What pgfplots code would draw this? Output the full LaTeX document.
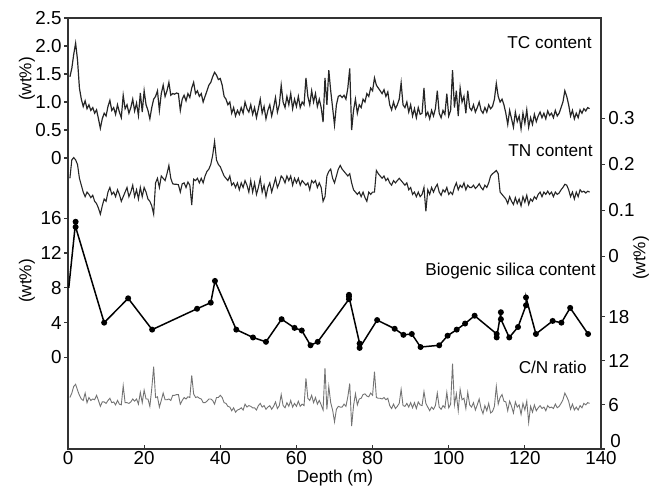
\documentclass[border=0pt]{standalone}
\usepackage{pgfplots}
\pgfplotsset{compat=1.18}
\usepackage{pgfplotstable}
\usepackage{fontspec}
\setmainfont{Liberation Sans}
% depth (m), TC (wt%), TN (wt%), C/N ratio
\pgfplotstableread{
d tc tn cn
0.5 1.45 0.17 7.0
1.0 1.6 0.21 7.6
1.5 1.85 0.215 8.5
2.0 2.05 0.21 8.8
2.5 1.75 0.2 8.0
3.0 1.25 0.17 7.3
3.5 1.05 0.155 6.8
4.0 0.92 0.14 6.6
4.5 1.02 0.13 7.6
5.0 0.88 0.14 6.3
5.5 0.95 0.135 7.0
6.0 0.85 0.128 6.6
6.5 0.9 0.133 6.8
7.0 0.8 0.12 6.7
7.5 0.86 0.115 7.3
8.0 0.7 0.105 6.6
8.5 0.53 0.092 5.8
9.0 0.7 0.11 6.4
9.5 0.8 0.125 6.4
10.0 0.75 0.12 6.2
10.5 0.92 0.14 6.6
11.0 1.03 0.15 6.9
11.5 0.85 0.135 6.3
12.0 0.9 0.14 6.4
12.5 0.78 0.13 6.0
13.0 0.95 0.145 6.6
13.5 0.82 0.135 6.1
14.0 0.72 0.12 6.0
14.5 1.12 0.13 8.6
15.0 0.88 0.14 6.3
15.5 0.95 0.15 6.3
16.0 0.8 0.13 6.2
16.5 0.9 0.14 6.4
17.0 1.05 0.155 6.8
17.5 0.84 0.13 6.5
18.0 0.98 0.145 6.8
18.5 0.76 0.125 6.1
19.0 1.16 0.15 7.7
19.5 0.82 0.13 6.3
20.0 1.2 0.15 8.0
20.5 0.95 0.14 6.8
21.0 0.85 0.125 6.8
21.5 0.7 0.12 5.8
22.0 0.9 0.11 8.2
22.5 1.05 0.092 11.2
23.0 1.1 0.16 7.0
23.5 1.2 0.17 7.1
24.0 0.85 0.15 5.7
24.5 1.15 0.175 6.6
25.0 1.3 0.17 7.6
25.5 1.1 0.165 6.7
26.0 1.2 0.18 6.7
26.5 1.35 0.198 6.8
27.0 1.12 0.17 6.6
27.5 1.15 0.158 7.3
28.0 1.14 0.157 7.3
28.5 1.16 0.157 7.4
29.0 1.15 0.156 7.4
29.5 0.85 0.14 6.1
30.0 1.05 0.158 6.6
30.5 1.12 0.16 7.0
31.0 1.02 0.15 6.8
31.5 1.15 0.162 7.1
32.0 1.08 0.155 7.0
32.5 1.25 0.112 10.0
33.0 1.35 0.168 7.5
33.5 1.15 0.165 7.0
34.0 1.2 0.17 7.1
34.5 1.1 0.16 6.9
35.0 1.15 0.17 6.8
35.5 1.0 0.16 6.3
36.0 1.1 0.175 6.3
36.5 1.2 0.185 6.5
37.0 1.3 0.19 6.8
37.5 1.35 0.2 6.8
38.0 1.45 0.22 6.6
38.5 1.53 0.25 6.1
39.0 1.48 0.21 7.0
39.5 1.4 0.2 7.0
40.0 1.42 0.195 7.3
40.5 1.3 0.185 7.0
41.0 1.1 0.175 6.3
41.5 1.05 0.17 6.2
42.0 0.95 0.165 5.8
42.5 1.0 0.175 5.7
43.0 0.8 0.155 5.2
43.5 0.9 0.16 5.6
44.0 0.75 0.15 5.0
44.5 0.85 0.16 5.3
45.0 0.78 0.145 5.4
45.5 0.9 0.16 5.6
46.0 0.8 0.15 5.3
46.5 1.0 0.165 6.1
47.0 0.88 0.155 5.7
47.5 0.82 0.14 5.9
48.0 0.95 0.165 5.8
48.5 0.78 0.14 5.6
49.0 0.9 0.16 5.6
49.5 0.72 0.135 5.3
50.0 0.88 0.15 5.9
50.5 1.05 0.17 6.2
51.0 0.8 0.14 5.7
51.5 0.92 0.155 5.9
52.0 0.7 0.13 5.4
52.5 0.85 0.15 5.7
53.0 0.95 0.16 5.9
53.5 0.75 0.14 5.4
54.0 0.9 0.155 5.8
54.5 1.08 0.17 6.4
55.0 0.82 0.15 5.5
55.5 0.95 0.16 5.9
56.0 1.3 0.175 7.4
56.5 1.0 0.17 5.9
57.0 0.9 0.16 5.6
57.5 1.1 0.175 6.3
58.0 0.95 0.165 5.8
58.5 1.15 0.175 6.6
59.0 0.88 0.155 5.7
59.5 1.05 0.17 6.2
60.0 0.92 0.16 5.8
60.5 1.1 0.17 6.5
61.0 0.9 0.155 5.8
61.5 1.0 0.165 6.1
62.0 0.95 0.16 5.9
62.5 1.43 0.155 9.6
63.0 1.1 0.16 6.9
63.5 0.95 0.145 6.6
64.0 1.2 0.165 7.3
64.5 1.0 0.16 6.3
65.0 1.15 0.165 7.0
65.5 0.92 0.15 6.1
66.0 1.05 0.16 6.6
66.5 0.9 0.15 6.0
67.0 0.64 0.12 5.3
67.5 1.43 0.13 11.0
68.0 0.95 0.175 5.4
68.5 1.57 0.185 8.5
69.0 1.2 0.19 6.3
69.5 0.9 0.17 5.3
70.0 0.59 0.16 3.7
70.5 0.95 0.175 5.4
71.0 1.1 0.19 5.8
71.5 1.12 0.198 5.7
72.0 1.08 0.19 5.7
72.5 1.12 0.185 6.1
73.0 1.05 0.18 5.8
73.5 1.25 0.175 7.1
74.0 1.6 0.18 8.9
74.5 0.5 0.16 3.1
75.0 0.85 0.145 5.9
75.5 1.05 0.14 7.5
76.0 0.8 0.135 6.0
76.5 0.95 0.14 6.8
77.0 0.9 0.13 6.9
77.5 1.05 0.14 7.4
78.0 1.0 0.128 7.5
78.5 1.15 0.12 7.2
79.0 1.1 0.14 7.1
79.5 1.25 0.135 7.6
80.0 1.2 0.14 7.3
80.5 1.43 0.14 10.5
81.0 1.3 0.187 7.0
81.5 1.25 0.18 6.9
82.0 1.2 0.175 6.9
82.5 1.15 0.17 6.8
83.0 1.22 0.175 7.0
83.5 1.1 0.165 6.7
84.0 1.18 0.17 6.9
84.5 0.95 0.16 5.9
85.0 0.86 0.155 5.5
85.5 1.0 0.165 6.1
86.0 0.88 0.16 5.5
86.5 0.95 0.165 5.8
87.0 1.05 0.17 6.2
87.5 1.34 0.165 8.1
88.0 0.95 0.16 5.9
88.5 0.9 0.155 5.8
89.0 1.0 0.16 6.2
89.5 0.82 0.145 5.7
90.0 0.95 0.15 6.3
90.5 0.75 0.135 5.6
91.0 0.88 0.14 6.3
91.5 0.72 0.13 5.5
92.0 0.9 0.14 6.4
92.5 0.78 0.13 6.0
93.0 0.8 0.135 5.9
93.5 1.25 0.15 7.8
94.0 0.75 0.098 6.2
94.5 0.82 0.145 5.7
95.0 0.7 0.135 5.2
95.5 0.85 0.15 5.7
96.0 0.75 0.14 5.4
96.5 0.88 0.15 5.9
97.0 1.2 0.157 7.6
97.5 0.8 0.14 5.7
98.0 0.72 0.133 5.4
98.5 0.85 0.145 5.9
99.0 0.78 0.14 5.6
99.5 1.15 0.15 7.7
100.0 0.75 0.135 5.6
100.5 0.85 0.14 6.1
101.0 1.57 0.135 11.6
101.5 0.9 0.15 6.0
102.0 1.2 0.16 7.5
102.5 0.75 0.145 5.2
103.0 1.25 0.155 8.1
103.5 1.0 0.15 6.7
104.0 1.1 0.16 6.9
104.5 0.8 0.145 5.5
105.0 1.2 0.155 7.7
105.5 0.9 0.15 6.0
106.0 0.85 0.15 5.7
106.5 0.95 0.155 6.3
107.0 0.82 0.148 5.3
107.5 0.9 0.152 6.0
108.0 1.0 0.158 6.8
108.5 0.85 0.15 5.5
109.0 0.8 0.145 4.8
109.5 0.9 0.155 5.9
110.0 0.82 0.15 5.2
110.5 0.95 0.16 6.2
111.0 0.88 0.175 4.9
111.5 0.92 0.18 5.1
112.0 1.05 0.183 5.8
112.5 1.33 0.187 8.5
113.0 1.1 0.18 6.1
113.5 1.0 0.14 7.0
114.0 1.05 0.135 7.4
114.5 0.95 0.13 6.5
115.0 0.8 0.125 6.4
115.5 0.6 0.115 5.2
116.0 0.85 0.13 6.5
116.5 0.7 0.12 5.8
117.0 0.55 0.113 4.9
117.5 0.82 0.128 6.4
118.0 0.65 0.115 5.7
118.5 0.75 0.125 6.0
119.0 0.52 0.11 4.7
119.5 0.8 0.13 6.2
120.0 0.62 0.118 5.3
120.5 0.86 0.133 6.5
121.0 0.55 0.113 3.6
121.5 0.72 0.125 5.8
122.0 0.6 0.12 5.0
122.5 0.78 0.13 6.0
123.0 0.65 0.125 5.2
123.5 0.75 0.135 5.6
124.0 0.82 0.14 5.9
124.5 0.72 0.13 5.5
125.0 0.8 0.14 5.7
125.5 0.7 0.135 5.2
126.0 0.84 0.142 5.9
126.5 0.76 0.135 5.6
127.0 0.8 0.14 5.7
127.5 0.72 0.13 5.5
128.0 0.85 0.14 6.1
128.5 0.75 0.135 5.6
129.0 0.8 0.138 5.8
129.5 0.9 0.145 6.2
130.0 1.0 0.15 6.7
130.5 1.2 0.157 7.6
131.0 1.1 0.155 7.1
131.5 0.95 0.145 6.5
132.0 0.75 0.13 5.4
132.5 0.85 0.14 6.1
133.0 0.7 0.125 5.3
133.5 0.8 0.14 5.7
134.0 0.72 0.13 5.3
134.5 0.86 0.145 5.9
135.0 0.8 0.14 5.6
135.5 0.88 0.142 6.2
136.0 0.84 0.138 6.0
136.5 0.9 0.142 6.3
137.0 0.88 0.14 6.2
}\cores
% depth (m), biogenic silica (wt%)
\pgfplotstableread{
d bsi
0.2 8.0
2.0 15.6
2.0 15.0
9.5 4.0
15.8 6.8
22.1 3.2
33.9 5.6
37.5 6.3
38.6 8.8
44.2 3.2
48.6 2.3
52.0 1.8
56.1 4.4
59.5 3.4
61.4 3.1
63.7 1.4
65.6 1.8
73.8 6.7
73.8 7.2
73.8 7.0
76.6 1.6
76.6 1.1
81.2 4.3
85.8 3.3
88.1 2.6
90.3 2.7
92.6 1.2
97.5 1.4
99.7 2.5
102.1 3.2
104.3 3.9
106.8 4.8
112.6 2.7
112.6 2.3
113.7 5.2
113.7 4.4
115.9 2.3
118.2 3.5
120.3 6.0
120.3 6.9
122.9 2.7
127.3 4.2
129.6 4.0
131.9 5.7
136.6 2.7
}\bsidata
\pgfplotsset{
  base/.style={
    scale only axis, width=266.5pt, height=215.5pt,
    at={(0pt,0pt)}, anchor=south west,
    xmin=0, xmax=140,
    axis line style={black!80, line width=0.9pt},
    tick style={black!80, line width=0.6pt},
    major tick length=2pt,
    tick label style={font=\fontsize{9.4}{10}\selectfont, text=black},
    /pgf/number format/assume math mode=true,
  },
  overlay/.style={
    base, hide x axis, axis line style={draw=none},
  },
}
\begin{document}
\begin{tikzpicture}
\useasboundingbox (-34pt,-18.5pt) rectangle (294pt,224.5pt);
% TC content (left scale)
\begin{axis}[base, ymin=-5.196, ymax=2.5,
  xtick={0,20,...,140}, xtick pos=left, xtick align=inside,
  ytick={0,0.5,1,1.5,2,2.5}, yticklabels={0,0.5,1.0,1.5,2.0,2.5},
  ytick pos=left, ytick align=outside,
  yticklabel style={inner sep=1pt},
  xticklabel style={inner sep=0.5pt, yshift=-0.5pt},
]
\addplot[black!85, line width=0.6pt] table[x=d, y=tc] {\cores};
\end{axis}
% TN content (right scale)
\begin{axis}[overlay, ymin=-0.4185, ymax=0.5185,
  ytick={0,0.1,0.2,0.3}, yticklabels={0,0.1,0.2,0.3},
  ytick pos=right, ytick align=outside,
  yticklabel style={inner sep=1.5pt},
]
\addplot[black!85, line width=0.55pt] table[x=d, y=tn] {\cores};
\end{axis}
% Biogenic silica (left scale)
\begin{axis}[overlay, ymin=-10.52, ymax=39.02,
  ytick={0,4,8,12,16},
  ytick pos=left, ytick align=outside,
  yticklabel style={inner sep=1pt},
]
\addplot[black, line width=0.75pt, mark=*, mark size=1.1pt, mark indices={2,...,45}] table[x=d, y=bsi] {\bsidata};
\end{axis}
% C/N ratio (right scale)
\begin{axis}[overlay, ymin=0, ymax=58.6,
  ytick={6,12,18},
  ytick pos=right, ytick align=outside,
  yticklabel style={inner sep=1.5pt},
  extra y ticks={0},
  extra y tick style={ytick pos=right, yticklabel style={inner sep=0pt, xshift=2.5pt, yshift=4pt}},
]
\addplot[black!55, line width=0.45pt] table[x=d, y=cn] {\cores};
\end{axis}
% labels
\begin{scope}[every node/.style={font=\fontsize{8.6}{10}\selectfont, inner sep=0pt}]
\node[anchor=east] at (262pt,203pt) {TC content};
\node[anchor=east] at (262.5pt,149pt) {TN content};
\node[anchor=east] at (264pt,89pt) {Biogenic silica content};
\node[anchor=east] at (259.5pt,41pt) {C/N ratio};
\node at (133.5pt,-14.5pt) {Depth (m)};
\node[rotate=90] at (-20.5pt,185pt) {(wt\%)};
\node[rotate=90] at (-20.5pt,84pt) {(wt\%)};
\node[rotate=90] at (286.5pt,95.5pt) {(wt\%)};
\end{scope}
\end{tikzpicture}
\end{document}
